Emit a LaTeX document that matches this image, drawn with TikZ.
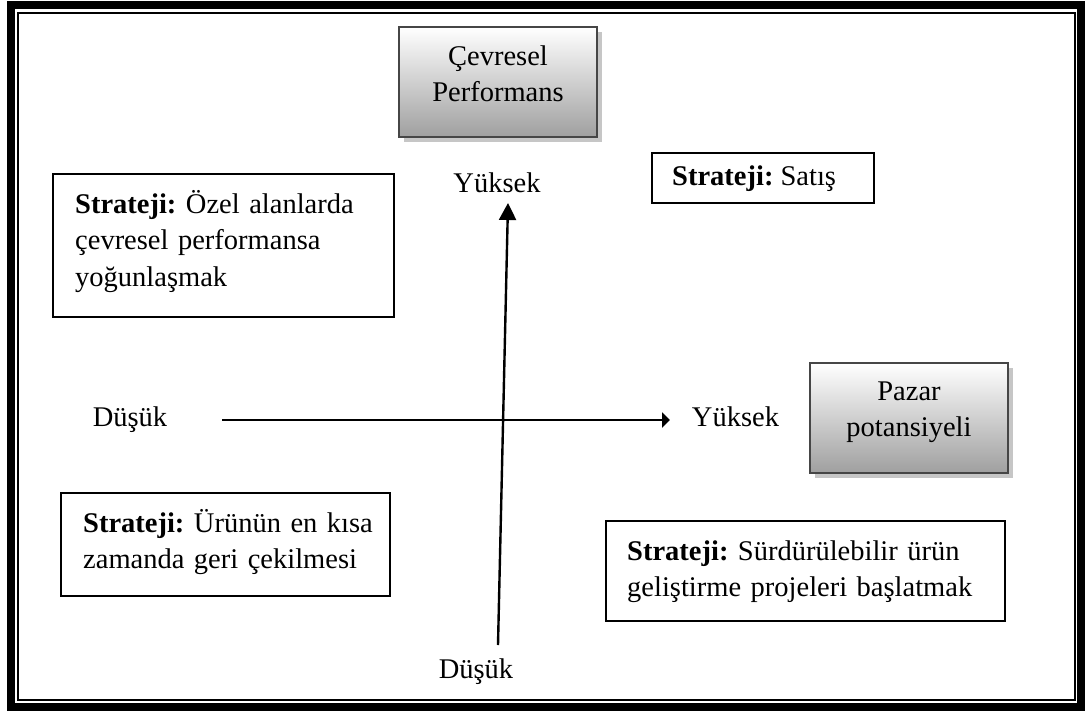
\documentclass[tikz,border=0pt]{standalone}
\usepackage{fontspec}
\setmainfont{Liberation Serif}
\usetikzlibrary{arrows.meta,shadows}
\frenchspacing
\begin{document}
\begin{tikzpicture}[x=1pt,y=-1pt,
  txt/.style={font=\fontsize{28.5}{36.7}\selectfont, inner sep=0pt},
  boxtext/.style={txt, align=left, anchor=north west},
  boxtitle/.style={txt, align=center, anchor=north},
  stratbox/.style={draw=black, line width=1.8pt, fill=white, inner sep=0pt},
  shadebox/.style={draw=gray!55!black, line width=1.6pt,
    top color=white, bottom color=gray!75,
    drop shadow={shadow xshift=5pt, shadow yshift=-5pt, fill=gray!45, opacity=1},
    inner sep=0pt},
  axis/.style={line width=2.4pt},
]
\useasboundingbox (0,0) rectangle (1085,715);
\fill[white] (0,0) rectangle (1085,715);
% double frame
\draw[line width=8pt] (10.5,4.5) rectangle (1080.5,707);
\draw[line width=2pt] (18,13) rectangle (1074.5,700);

% shaded axis boxes (top edge of each text block sits one strut above its first baseline)
\node[shadebox, minimum width=198pt, minimum height=110pt] (cev) at (498,82) {};
\node[boxtitle] (cev-t) at (498,39.3) {\strut Çevresel\\Performans};
\node[shadebox, minimum width=198pt, minimum height=110pt] (paz) at (909,418) {};
\node[boxtitle] (paz-t) at (909,374.3) {\strut Pazar\\potansiyeli};

% strategy boxes
\node[stratbox, minimum width=222pt, minimum height=50pt] (sat) at (763,178) {};
\node[boxtext] (sat-t) at (672,159.3) {\strut\textbf{Strateji:} Satış};

\node[stratbox, minimum width=341pt, minimum height=143pt] (ozel) at (223.5,245.5) {};
\node[boxtext, text width=310pt] (ozel-t) at (75,187.3)
  {\strut\textbf{Strateji:} Özel alanlarda\\çevresel performansa\\yoğunlaşmak};

\node[stratbox, minimum width=329pt, minimum height=103pt] (urun) at (225.5,544.5) {};
\node[boxtext, text width=305pt] (urun-t) at (83,506.3)
  {\strut\textbf{Strateji:} Ürünün en kısa\\zamanda geri çekilmesi};

\node[stratbox, minimum width=399pt, minimum height=100pt] (surd) at (805.5,571) {};
\node[boxtext, text width=375pt] (surd-t) at (627,534.3)
  {\strut\textbf{Strateji:} Sürdürülebilir ürün\\geliştirme projeleri başlatmak};

% axis end labels
\node[txt, anchor=base] (ytop) at (497,192) {Yüksek};
\node[txt, anchor=base] (yright) at (735.5,426) {Yüksek};
\node[txt, anchor=base] (dleft) at (130,426) {Düşük};
\node[txt, anchor=base] (dbottom) at (476,678) {Düşük};

% axes
\coordinate (hs) at (222,420);
\coordinate (he) at (670,420);
\coordinate (vs) at (498,645);
\coordinate (ve) at (508,203);
\draw[axis, -{Triangle[length=8pt,width=15pt]}] (hs) -- (he);
\draw[axis, -{Triangle[length=17pt,width=17pt]}] (vs) -- (ve);
\end{tikzpicture}
\end{document}
